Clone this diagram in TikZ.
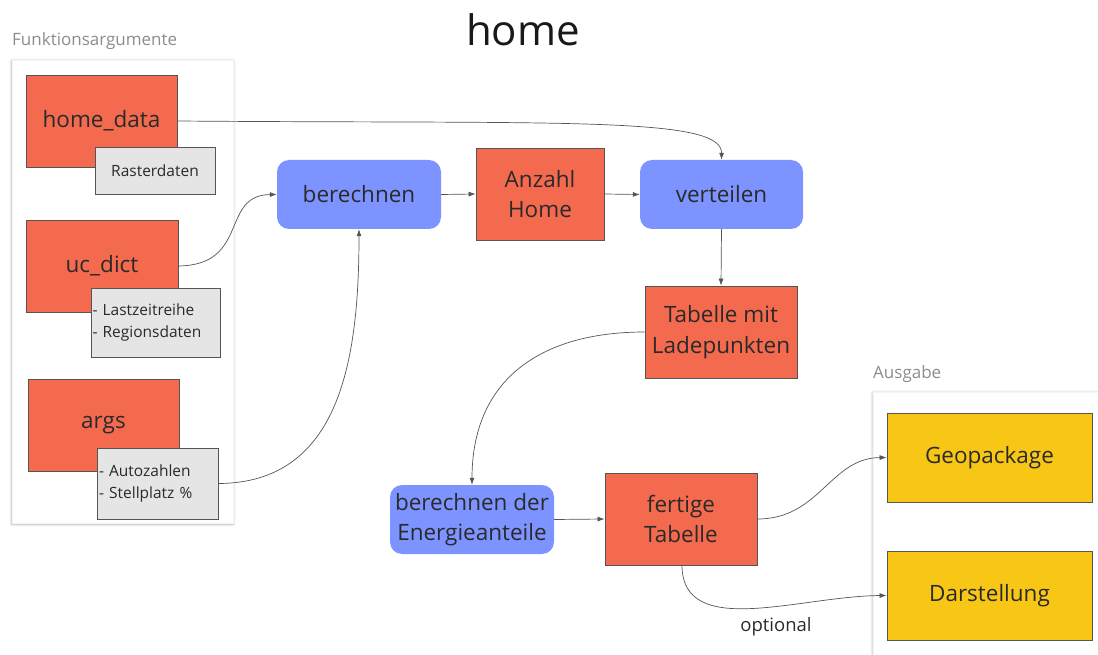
\documentclass[tikz,border=0pt]{standalone}
\usepackage{fontspec}
\setmainfont{Open Sans}
\usetikzlibrary{arrows.meta,shadows.blur}
\definecolor{rd}{HTML}{F46A4E}
\definecolor{bl}{HTML}{7D93FF}
\definecolor{yl}{HTML}{F8C614}
\definecolor{gy}{HTML}{E5E5E5}
\definecolor{ln}{HTML}{555555}
\definecolor{tx}{HTML}{2A2A2A}
\tikzset{
  redbox/.style={draw=ln, fill=rd, line width=0.8pt, text=tx, font=\fontsize{22.5}{30.5}\selectfont, align=center, inner sep=0pt},
  bluebox/.style={fill=bl, rounded corners=12pt, text=tx, font=\fontsize{22.5}{30.5}\selectfont, align=center, inner sep=0pt},
  yelbox/.style={draw=ln, fill=yl, line width=0.8pt, text=tx, font=\fontsize{22.5}{30.5}\selectfont, align=center, inner sep=0pt},
  graybox/.style={draw=ln, fill=gy, line width=0.8pt, text=tx, font=\fontsize{15.5}{21.5}\selectfont, inner sep=0pt},
  panel/.style={fill=white, draw=black!4, blur shadow={shadow blur steps=6, shadow xshift=0pt, shadow yshift=-1pt, shadow blur radius=3pt, shadow opacity=30}},
  grouplabel/.style={text=black!45, font=\fontsize{17}{19}\selectfont, anchor=west, inner sep=0pt},
  conn/.style={draw=ln, line width=0.7pt, -{Latex[length=7pt,width=5pt]}},
}
\begin{document}
\begin{tikzpicture}[x=1pt,y=-1pt]
\useasboundingbox (0,0) rectangle (1098,655);
% title
\node[font=\fontsize{42}{46}\selectfont, text=black!90] (title) at (523,30) {home};
% panels
\node[grouplabel] (flab) at (12,41) {Funktionsargumente};
\node[panel, minimum width=221pt, minimum height=463pt, inner sep=0pt] (fpanel) at (122.5,291.5) {};
\node[grouplabel] (alab) at (873,374) {Ausgabe};
\node[panel, minimum width=240pt, minimum height=280pt, inner sep=0pt] (apanel) at (993,532) {};
% left inputs
\node[redbox, minimum width=151pt, minimum height=92pt] (hd) at (101.5,121) {home\_data};
\node[graybox, minimum width=120pt, minimum height=47pt, align=center] (rd) at (155,170.5) {Rasterdaten};
\node[redbox, minimum width=152pt, minimum height=92pt] (uc) at (102,266) {uc\_dict};
\node[graybox, minimum width=129pt, minimum height=69pt, align=left, text width=126pt] (lz) at (155.5,322.5) {- Lastzeitreihe\\- Regionsdaten};
\node[redbox, minimum width=151pt, minimum height=92pt] (ar) at (103.5,425) {args};
\node[graybox, minimum width=121pt, minimum height=71pt, align=left, text width=117pt] (az) at (157.5,483.5) {- Autozahlen\\- Stellplatz \%};
% main flow
\node[bluebox, minimum width=164pt, minimum height=69pt] (be) at (359,194.5) {berechnen};
\node[redbox, minimum width=128pt, minimum height=92pt] (an) at (540,194) {Anzahl\\Home};
\node[bluebox, minimum width=163pt, minimum height=69pt] (ve) at (721.5,194.5) {verteilen};
\node[redbox, minimum width=152pt, minimum height=92pt] (tl) at (721,332) {Tabelle mit\\Ladepunkten};
\node[bluebox, minimum width=164pt, minimum height=69pt] (en) at (472,519.5) {berechnen der\\Energieanteile};
\node[redbox, minimum width=152pt, minimum height=92pt] (ft) at (681,519) {fertige\\Tabelle};
\node[yelbox, minimum width=205pt, minimum height=89pt] (gp) at (989.5,457.5) {Geopackage};
\node[yelbox, minimum width=205pt, minimum height=89pt] (ds) at (989.5,595.5) {Darstellung};
% connectors
\draw[conn] (hd.east) .. controls (560,124) and (722,116) .. (ve.north);
\draw[conn] (uc.east) .. controls (250,265) and (220,195) .. (be.west);
\draw[conn] (az.east) .. controls (340,483) and (359,360) .. (be.south);
\draw[conn] (be.east) -- (an.west);
\draw[conn] (an.east) -- (ve.west);
\draw[conn] (ve.south) -- (tl.north);
\draw[conn] (tl.west) .. controls (540,332) and (472,380) .. (en.north);
\draw[conn] (en.east) -- (ft.west);
\draw[conn] (ft.east) .. controls (820,519) and (830,458) .. (gp.west);
\coordinate (ftb) at (682,565);
\draw[conn] (ftb) .. controls (682,640) and (800,596) .. (ds.west);
\node[font=\fontsize{18.5}{21}\selectfont, text=tx] (opt) at (776,627) {optional};
\end{tikzpicture}
\end{document}
